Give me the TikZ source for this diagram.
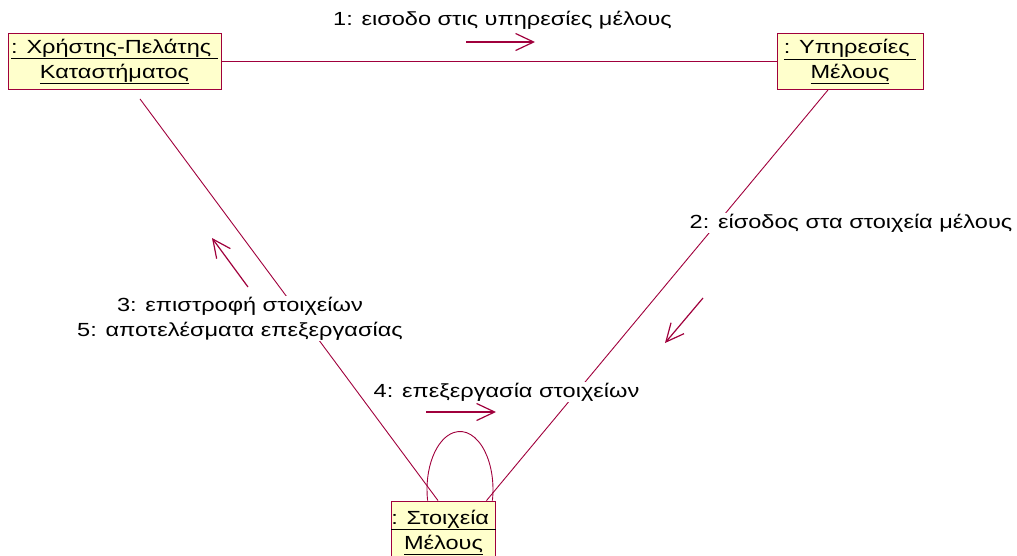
\documentclass[tikz,border=0pt]{standalone}
\usepackage{fontspec}
\setmainfont{Liberation Sans}[FakeStretch=1.24]
\usetikzlibrary{arrows.meta}
\definecolor{roseline}{RGB}{160,0,60}
\definecolor{rosefill}{RGB}{255,255,204}
\begin{document}
\begin{tikzpicture}
[x=1pt,y=-1pt,
obj/.style={rectangle,draw=roseline,fill=rosefill,line width=0.9pt,align=center,inner sep=0pt,font=\fontsize{19}{25}\selectfont},
link/.style={draw=roseline,line width=0.9pt},
msg/.style={draw=roseline,line width=1.2pt,-{Straight Barb[length=18pt,width=17pt,line width=1.2pt]}},
txt/.style={fill=white,inner sep=1pt,align=center,font=\fontsize{19}{25}\selectfont}]
\useasboundingbox (0,0) rectangle (1017,555);
% objects
\node[obj,minimum width=213pt,minimum height=56pt] (kpelatis) at (114.5,61.5) {\underline{: Χρήστης-Πελάτης\ }\\\underline{Καταστήματος}};
\node[obj,minimum width=146pt,minimum height=56pt] (ypiresies) at (850,61.5) {\underline{: Υπηρεσίες\ }\\\underline{Μέλους}};
\node[obj,minimum width=97pt,minimum height=62pt] (stoixeia) at (443.5,532) {\underline{: Στοιχεία\ }\\\underline{Μέλους}};
% links
\draw[link] (kpelatis) -- (ypiresies);
\draw[link] ([shift={(25.5pt,-9pt)}]kpelatis.south) -- ([xshift=-5.5pt]stoixeia.north);
\draw[link] ([xshift=-22pt]ypiresies.south) -- ([xshift=43pt]stoixeia.north);
\draw[link] ([xshift=-15.9pt]stoixeia.north) arc[start angle=191,end angle=-11,x radius=33pt,y radius=58pt];
% messages
\coordinate (m1s) at (466,42);
\coordinate (m1e) at (535,42);
\coordinate (m2s) at (703,298);
\coordinate (m2e) at (665,343);
\coordinate (m3s) at (248,287);
\coordinate (m3e) at (212,238);
\coordinate (m4s) at (426,412);
\coordinate (m4e) at (496,412);
\draw[msg] (m1s) -- (m1e);
\draw[msg] (m2s) -- (m2e);
\draw[msg] (m3s) -- (m3e);
\draw[msg] (m4s) -- (m4e);
\node[txt] (l1) at (502.5,20) {1: εισοδο στις υπηρεσίες μέλους};
\node[txt] (l2) at (851,223) {2: είσοδος στα στοιχεία μέλους};
\node[txt] (l3) at (240,318.5) {3: επιστροφή στοιχείων\\5: αποτελέσματα επεξεργασίας};
\node[txt] (l4) at (506.5,392) {4: επεξεργασία στοιχείων};
\end{tikzpicture}
\end{document}
